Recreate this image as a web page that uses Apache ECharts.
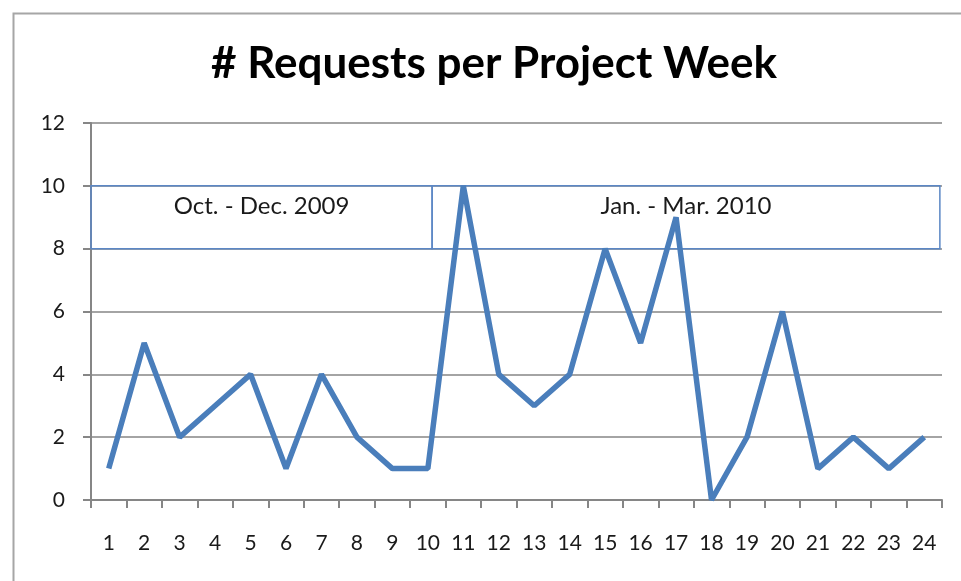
<!DOCTYPE html>
<html>
<head>
<meta charset="utf-8">
<script src="https://cdn.jsdelivr.net/npm/echarts@6/dist/echarts.min.js"></script>
<style>html,body{margin:0;padding:0;background:#fff;}#c{width:961px;height:581px;}</style>
</head>
<body>
<div id="c"></div>
<script>
const weeks = ['1','2','3','4','5','6','7','8','9','10','11','12','13','14','15','16','17','18','19','20','21','22','23','24'];
const requests = [1,5,2,3,4,1,4,2,1,1,10,4,3,4,8,5,9,0,2,6,1,2,1,2];
const periods = [
  {name: 'Oct. - Dec. 2009', from: 0.5, to: 10.12},
  {name: 'Jan. - Mar. 2010', from: 10.12, to: 24.44}
];
const periodBand = [8, 10];

const chart = echarts.init(document.getElementById('c'));
const font = 'Lato, "Open Sans", sans-serif';
chart.setOption({
  animation: false,
  backgroundColor: '#fff',
  title: {
    text: '# Requests per Project Week',
    left: 489,
    textAlign: 'center',
    top: 37,
    textStyle: {fontFamily: font, fontWeight: 'bold', fontSize: 44, color: '#000'}
  },
  graphic: [{
    type: 'rect', left: 11, top: 11,
    shape: {width: 1100, height: 800},
    style: {fill: 'none', stroke: '#a6a6a6', lineWidth: 2}
  }],
  grid: {left: 91, right: 19, top: 123, bottom: 81},
  xAxis: [{
    type: 'category',
    data: weeks,
    boundaryGap: true,
    axisLine: {lineStyle: {color: '#868686', width: 2}},
    axisTick: {show: true, inside: false, length: 8, lineStyle: {color: '#868686', width: 2}},
    axisLabel: {fontFamily: font, fontSize: 21, color: '#1a1a1a', margin: 33}
  }, {
    type: 'value', min: 0.5, max: 24.5, show: false
  }],
  yAxis: {
    type: 'value', min: 0, max: 12, interval: 2,
    axisLine: {show: true, lineStyle: {color: '#868686', width: 2}},
    axisTick: {show: true, length: 8, lineStyle: {color: '#868686', width: 2}},
    splitLine: {lineStyle: {color: '#868686', width: 1.5}},
    axisLabel: {fontFamily: font, fontSize: 21, color: '#1a1a1a', margin: 26}
  },
  series: [{
    type: 'line',
    xAxisIndex: 1,
    data: [],
    markArea: {
      silent: true,
      itemStyle: {color: 'rgba(255,255,255,0)', borderColor: '#5b87c5', borderWidth: 1.5},
      label: {show: true, position: 'inside', fontFamily: font, fontSize: 24, color: '#1a1a1a', offset: [0, -11]},
      data: periods.map(p => [
        {name: p.name, coord: [p.from, periodBand[1]]},
        {coord: [p.to, periodBand[0]]}
      ])
    }
  }, {
    type: 'line',
    data: requests,
    symbol: 'none',
    lineStyle: {color: '#4a7ebb', width: 5.5},
    z: 5
  }]
});
</script>
</body>
</html>
